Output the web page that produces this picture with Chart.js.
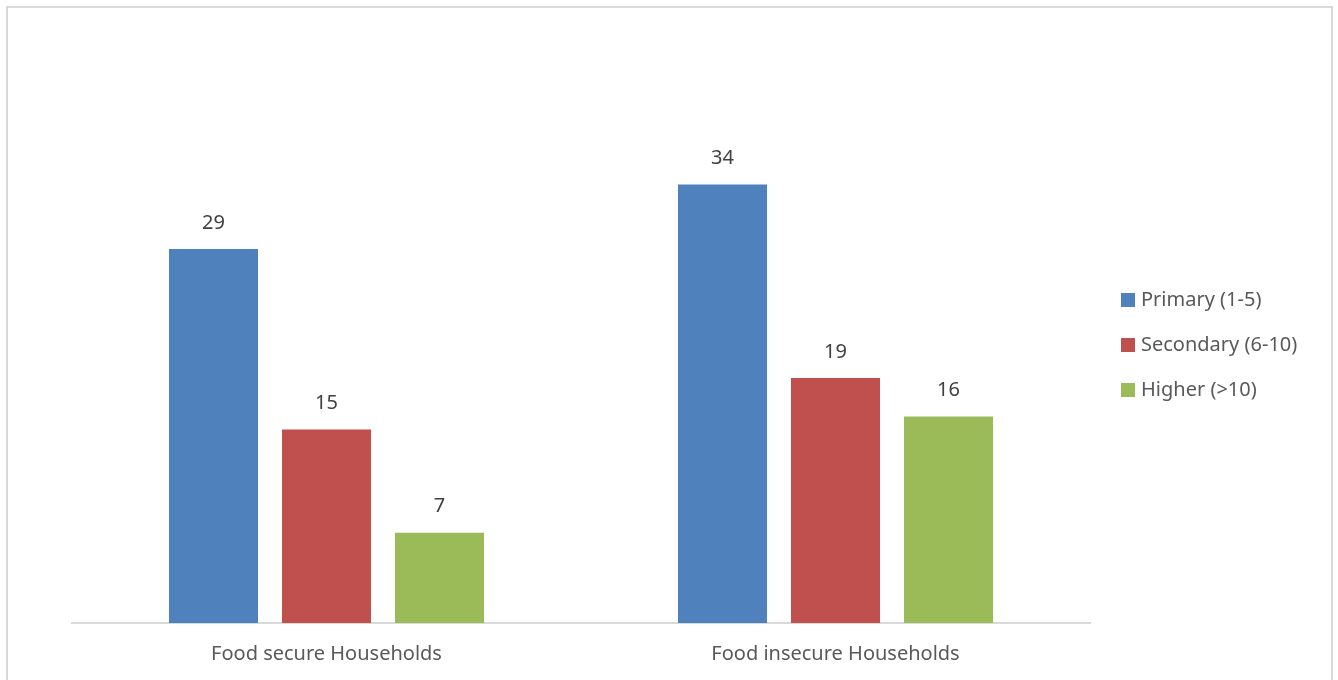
<!DOCTYPE html>
<html>
<head>
<meta charset="utf-8">
<script src="https://cdn.jsdelivr.net/npm/chart.js@4"></script>
<style>
  html, body { margin: 0; padding: 0; background: #fff; }
  canvas { display: block; }
</style>
</head>
<body>
<canvas id="grafico" width="1338" height="680"></canvas>
<script>
// categorias e séries
const categorias = ['Food secure Households', 'Food insecure Households'];
const primario = [29, 34];
const secundario = [15, 19];
const superior = [7, 16];
const nomesSeries = ['Primary (1-5)', 'Secondary (6-10)', 'Higher (>10)'];
const coresSeries = ['#4f81bd', '#c0504d', '#9bbb59'];
const eixoYMax = 40;

const fonte = '"Noto Sans", "Open Sans", sans-serif';
const tamFonte = 20;

// borda cinza em volta do gráfico
const moldura = {
    id: 'moldura',
    beforeDraw(chart){
        const ctx = chart.ctx;
        ctx.save();
        ctx.fillStyle = '#fff';
        ctx.fillRect(0, 0, chart.width, chart.height);
        ctx.strokeStyle = '#d9d9d9';
        ctx.lineWidth = 2;
        ctx.strokeRect(7, 7, 1325, 700);
        ctx.restore();
    }
};

// valores em cima das barras
const rotulos = {
    id: 'rotulos',
    afterDatasetsDraw(chart){
        const ctx = chart.ctx;
        ctx.save();
        ctx.font = tamFonte + 'px ' + fonte;
        ctx.fillStyle = '#404040';
        ctx.textAlign = 'center';
        ctx.textBaseline = 'middle';
        chart.data.datasets.forEach((ds, i) => {
            chart.getDatasetMeta(i).data.forEach((bar, j) => {
                ctx.fillText(ds.data[j], bar.x, bar.y - 26);
            });
        });
        ctx.restore();
    }
};

// legenda à direita
const legendaDireita = {
    id: 'legendaDireita',
    afterDraw(chart){
        const ctx = chart.ctx;
        ctx.save();
        ctx.font = tamFonte + 'px ' + fonte;
        ctx.textBaseline = 'middle';
        ctx.textAlign = 'left';
        chart.data.datasets.forEach((ds, i) => {
            const y = 300 + i * 45;
            ctx.fillStyle = ds.backgroundColor;
            ctx.fillRect(1121, y - 7, 14, 14);
            ctx.fillStyle = '#595959';
            ctx.fillText(ds.label, 1141, y);
        });
        ctx.restore();
    }
};

new Chart(document.getElementById('grafico'), {
    type: 'bar',
    data: {
        labels: categorias,
        datasets: [
            { label: nomesSeries[0], data: primario, backgroundColor: coresSeries[0] },
            { label: nomesSeries[1], data: secundario, backgroundColor: coresSeries[1] },
            { label: nomesSeries[2], data: superior, backgroundColor: coresSeries[2] }
        ]
    },
    options: {
        responsive: false,
        animation: false,
        categoryPercentage: 0.666,
        barPercentage: 0.788,
        layout: { padding: { left: 72, right: 248, top: 107, bottom: 0 } },
        plugins: {
            legend: { display: false },
            tooltip: { enabled: false }
        },
        scales: {
            x: {
                grid: { display: false, drawTicks: false },
                border: { display: true, color: '#d9d9d9', width: 2 },
                ticks: { color: '#595959', font: { family: fonte, size: tamFonte }, padding: 19 },
                afterFit(escala){ escala.height = 57; }
            },
            y: {
                display: false,
                min: 0,
                max: eixoYMax
            }
        }
    },
    plugins: [moldura, rotulos, legendaDireita]
});
</script>
</body>
</html>
